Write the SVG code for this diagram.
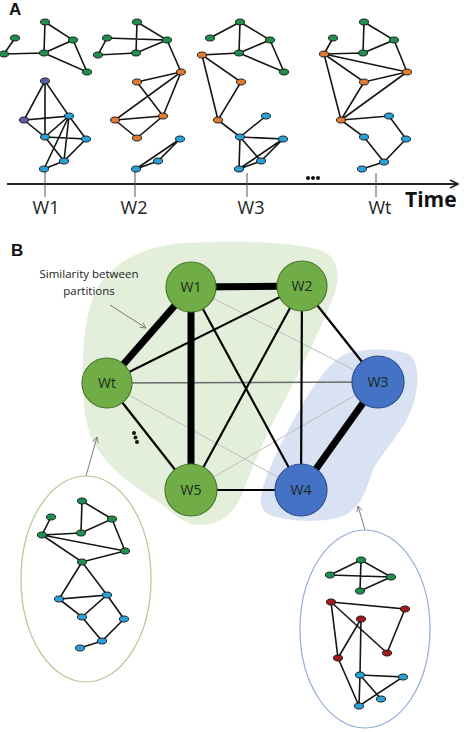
<svg xmlns="http://www.w3.org/2000/svg" width="467" height="732" viewBox="0 0 467 732">
<defs>
<style>
.e{stroke:#151515;stroke-width:1.6;fill:none}
.n{stroke:#111;stroke-width:0.9}
.ng{fill:#1f8f4e}.no{fill:#e07b32}.nb{fill:#2aa0d8}.np{fill:#5a5ea8}.nr{fill:#a3191b}
.lbl{font-family:"Open Sans","DejaVu Sans",sans-serif;fill:#222}
.big{font-family:"Liberation Sans",Arial,sans-serif;font-weight:bold;fill:#111}
.tk{stroke:#555;stroke-width:1}
.bt{stroke:#000;stroke-width:7;stroke-linecap:butt}
.bm{stroke:#000;stroke-width:2.2}
.bg{stroke:#6a6a6a;stroke-width:1.5}
.bl{stroke:#bdbdbd;stroke-width:1}
.cg{fill:#70ad47;stroke:#4a7a2e;stroke-width:1.2}
.cb{fill:#4472c4;stroke:#2f528f;stroke-width:1.2}
.cl{font-family:"Open Sans","DejaVu Sans",sans-serif;font-size:14px;fill:#1d2a1a;text-anchor:middle}
.ar{stroke:#7a7a7a;stroke-width:1;fill:none}
</style>
<marker id="oa" viewBox="0 0 10 10" refX="9" refY="5" markerWidth="7" markerHeight="7" orient="auto" markerUnits="userSpaceOnUse">
<path d="M1,1 L9,5 L1,9" fill="none" stroke="#7a7a7a" stroke-width="1.2"/>
</marker>
<marker id="ta" viewBox="0 0 10 10" refX="9" refY="5" markerWidth="10" markerHeight="10" orient="auto" markerUnits="userSpaceOnUse">
<path d="M1,1 L9,5 L1,9" fill="none" stroke="#222" stroke-width="1.6"/>
</marker>
</defs>
<rect width="467" height="732" fill="#fff"/>

<!-- Panel A -->
<text class="big" x="9" y="15" font-size="17">A</text>

<g id="timeline">
<line x1="7" y1="184" x2="458" y2="184" stroke="#222" stroke-width="1.8" marker-end="url(#ta)"/>
<line class="tk" x1="45" y1="169" x2="45" y2="197"/>
<line class="tk" x1="135" y1="169" x2="135" y2="197"/>
<line class="tk" x1="247" y1="173" x2="247" y2="197"/>
<line class="tk" x1="376" y1="173" x2="376" y2="197"/>
<text class="lbl" x="46" y="214" font-size="18" text-anchor="middle">W1</text>
<text class="lbl" x="134" y="214" font-size="18" text-anchor="middle">W2</text>
<text class="lbl" x="251" y="214" font-size="18" text-anchor="middle">W3</text>
<text class="lbl" x="380" y="214" font-size="18" text-anchor="middle">Wt</text>
<text x="405" y="207" font-family="'Open Sans','DejaVu Sans',sans-serif" font-weight="bold" font-size="21" fill="#111">Time</text>
<circle cx="308" cy="178" r="2" fill="#111"/><circle cx="313" cy="178" r="2" fill="#111"/><circle cx="318" cy="178" r="2" fill="#111"/>
</g>

<g id="connectors-A">
<!-- W1 -->
<path class="e" d="M15,38L4,54L44,53L45,22L73,40L44,53M44,53L87,72L73,40"/>
<path class="e" d="M45,81L24,120L69,116L45,81L45,137L24,120M45,137L69,116L64,161M69,116L44,169M69,116L86,139M45,137L86,139L64,161L45,137M64,161L44,169"/>
<!-- W2 -->
<path class="e" d="M137,22L136,53M137,22L167,40L107,38L98,55L136,53L167,40"/>
<path class="e" d="M167,40L181,72L137,82L163,116L181,72L115,120L163,116L137,138L115,120"/>
<path class="e" d="M180,139L136,169L158,161L180,139"/>
<!-- W3 -->
<path class="e" d="M240,22L210,38M240,22L239,53L270,40L240,22M270,40L284,72L239,53"/>
<path class="e" d="M239,53L202,55L241,82L218,120L202,55"/>
<path class="e" d="M218,120L240,137L266,116M240,137L283,139L261,161L240,137L239,169L283,139M239,169L261,161"/>
<!-- Wt -->
<path class="e" d="M364,22L363,53L394,40L364,22M394,40L407,72M333,38L324,54L363,53M324,54L407,72L364,82L324,54L341,120L364,82M341,120L407,72"/>
<path class="e" d="M341,120L389,116L406,139L384,162L364,137L341,120M384,162L362,169"/>
</g>

<g id="graph-W1">
<ellipse class="n ng" cx="15" cy="38" rx="4.5" ry="3"/><ellipse class="n ng" cx="4" cy="54" rx="4.5" ry="3"/>
<ellipse class="n ng" cx="44" cy="53" rx="4.5" ry="3"/><ellipse class="n ng" cx="45" cy="22" rx="4.5" ry="3"/>
<ellipse class="n ng" cx="73" cy="40" rx="4.5" ry="3"/><ellipse class="n ng" cx="87" cy="72" rx="4.5" ry="3"/>
<ellipse class="n np" cx="45" cy="81" rx="4.5" ry="3"/><ellipse class="n np" cx="24" cy="120" rx="4.5" ry="3"/>
<ellipse class="n nb" cx="69" cy="116" rx="4.5" ry="3"/><ellipse class="n nb" cx="45" cy="137" rx="4.5" ry="3"/>
<ellipse class="n nb" cx="86" cy="139" rx="4.5" ry="3"/><ellipse class="n nb" cx="64" cy="161" rx="4.5" ry="3"/>
<ellipse class="n nb" cx="44" cy="169" rx="4.5" ry="3"/>
</g>
<g id="graph-W2">
<ellipse class="n ng" cx="137" cy="22" rx="4.5" ry="3"/><ellipse class="n ng" cx="107" cy="38" rx="4.5" ry="3"/>
<ellipse class="n ng" cx="98" cy="55" rx="4.5" ry="3"/><ellipse class="n ng" cx="136" cy="53" rx="4.5" ry="3"/>
<ellipse class="n ng" cx="167" cy="40" rx="4.5" ry="3"/>
<ellipse class="n no" cx="181" cy="72" rx="4.5" ry="3"/><ellipse class="n no" cx="137" cy="82" rx="4.5" ry="3"/>
<ellipse class="n no" cx="115" cy="120" rx="4.5" ry="3"/><ellipse class="n no" cx="163" cy="116" rx="4.5" ry="3"/>
<ellipse class="n no" cx="137" cy="138" rx="4.5" ry="3"/>
<ellipse class="n nb" cx="180" cy="139" rx="4.5" ry="3"/><ellipse class="n nb" cx="158" cy="161" rx="4.5" ry="3"/>
<ellipse class="n nb" cx="136" cy="169" rx="4.5" ry="3"/>
</g>
<g id="graph-W3">
<ellipse class="n ng" cx="240" cy="22" rx="4.5" ry="3"/><ellipse class="n ng" cx="210" cy="38" rx="4.5" ry="3"/>
<ellipse class="n ng" cx="239" cy="53" rx="4.5" ry="3"/><ellipse class="n ng" cx="270" cy="40" rx="4.5" ry="3"/>
<ellipse class="n ng" cx="284" cy="72" rx="4.5" ry="3"/>
<ellipse class="n no" cx="202" cy="55" rx="4.5" ry="3"/><ellipse class="n no" cx="241" cy="82" rx="4.5" ry="3"/>
<ellipse class="n no" cx="218" cy="120" rx="4.5" ry="3"/>
<ellipse class="n nb" cx="266" cy="116" rx="4.5" ry="3"/><ellipse class="n nb" cx="240" cy="137" rx="4.5" ry="3"/>
<ellipse class="n nb" cx="283" cy="139" rx="4.5" ry="3"/><ellipse class="n nb" cx="261" cy="161" rx="4.5" ry="3"/>
<ellipse class="n nb" cx="239" cy="169" rx="4.5" ry="3"/>
</g>
<g id="graph-Wt">
<ellipse class="n ng" cx="364" cy="22" rx="4.5" ry="3"/><ellipse class="n ng" cx="333" cy="38" rx="4.5" ry="3"/>
<ellipse class="n ng" cx="363" cy="53" rx="4.5" ry="3"/><ellipse class="n ng" cx="394" cy="40" rx="4.5" ry="3"/>
<ellipse class="n no" cx="324" cy="54" rx="4.5" ry="3"/><ellipse class="n no" cx="407" cy="72" rx="4.5" ry="3"/>
<ellipse class="n no" cx="364" cy="82" rx="4.5" ry="3"/><ellipse class="n no" cx="341" cy="120" rx="4.5" ry="3"/>
<ellipse class="n nb" cx="389" cy="116" rx="4.5" ry="3"/><ellipse class="n nb" cx="364" cy="137" rx="4.5" ry="3"/>
<ellipse class="n nb" cx="406" cy="139" rx="4.5" ry="3"/><ellipse class="n nb" cx="384" cy="162" rx="4.5" ry="3"/>
<ellipse class="n nb" cx="362" cy="169" rx="4.5" ry="3"/>
</g>

<!-- Panel B -->
<text class="big" x="11" y="256" font-size="17">B</text>

<g id="regions">
<path d="M185,243 C150,245 120,258 103,280 C88,300 84,330 83,360 C82,395 84,420 92,440 C105,465 130,485 160,503 C175,515 185,525 200,525 C222,525 235,512 243,492 C255,460 268,430 285,400 C300,370 318,335 330,305 C340,285 342,262 325,252 C300,242 240,240 185,243 Z" fill="#e3efda"/>
<path d="M345,354 C360,349 395,347 410,355 C420,365 419,385 413,405 C405,430 382,452 373,470 C366,490 362,506 345,515 C325,524 285,522 268,514 C257,507 260,495 266,478 C276,452 290,425 305,400 C318,380 330,362 345,354 Z" fill="#d9e2f3"/>
</g>

<g id="connectors-B">
<line class="bl" x1="191" y1="287" x2="378" y2="382"/>
<line class="bl" x1="107" y1="383" x2="301" y2="490"/>
<line class="bl" x1="378" y1="382" x2="191" y2="490"/>
<line class="bg" x1="107" y1="383" x2="378" y2="382"/>
<line class="bm" x1="191" y1="287" x2="301" y2="490"/>
<line class="bm" x1="302" y1="286" x2="107" y2="383"/>
<line class="bm" x1="302" y1="286" x2="191" y2="490"/>
<line class="bm" x1="302" y1="286" x2="301" y2="490"/>
<line class="bm" x1="302" y1="286" x2="378" y2="382"/>
<line class="bm" x1="107" y1="383" x2="191" y2="490"/>
<line class="bm" x1="191" y1="490" x2="301" y2="490"/>
<line class="bt" x1="191" y1="287" x2="302" y2="286"/>
<line class="bt" x1="191" y1="287" x2="107" y2="383"/>
<line class="bt" x1="191" y1="287" x2="191" y2="490"/>
<line class="bt" x1="378" y1="382" x2="301" y2="490"/>
<line class="ar" x1="110" y1="305" x2="146" y2="328" marker-end="url(#oa)"/>
<line class="ar" x1="86" y1="476" x2="97" y2="437" marker-end="url(#oa)"/>
<line class="ar" x1="365" y1="530" x2="358" y2="506" marker-end="url(#oa)"/>
</g>

<text class="lbl" x="89" y="278" font-size="11.5" text-anchor="middle">Similarity between</text>
<text class="lbl" x="89" y="295" font-size="11.5" text-anchor="middle">partitions</text>
<circle cx="134" cy="433" r="2" fill="#111"/><circle cx="135.5" cy="437.5" r="2" fill="#111"/><circle cx="137" cy="442" r="2" fill="#111"/>

<g id="node-W1"><circle class="cg" cx="191" cy="287" r="25"/><text class="cl" x="191" y="292">W1</text></g>
<g id="node-W2"><circle class="cg" cx="302" cy="286" r="25"/><text class="cl" x="302" y="291">W2</text></g>
<g id="node-Wt"><circle class="cg" cx="107" cy="383" r="25"/><text class="cl" x="107" y="388">Wt</text></g>
<g id="node-W5"><circle class="cg" cx="191" cy="490" r="26"/><text class="cl" x="191" y="495">W5</text></g>
<g id="node-W3"><circle class="cb" cx="378" cy="382" r="26"/><text class="cl" x="378" y="387">W3</text></g>
<g id="node-W4"><circle class="cb" cx="301" cy="490" r="26"/><text class="cl" x="301" y="495">W4</text></g>

<g id="inset-left">
<ellipse cx="86" cy="579" rx="65" ry="103" fill="none" stroke="#b3c898" stroke-width="1.2"/>
<path class="e" d="M82,501L81,533L112,519L82,501M112,519L125,551L42,535L51,517M42,535L81,533M42,535L82,562L125,551M82,562L59,599L107,595L82,562M59,599L82,617L107,595L124,619L102,641L82,617M102,641L80,648"/>
<ellipse class="n ng" cx="82" cy="501" rx="4.5" ry="3"/><ellipse class="n ng" cx="51" cy="517" rx="4.5" ry="3"/>
<ellipse class="n ng" cx="112" cy="519" rx="4.5" ry="3"/><ellipse class="n ng" cx="81" cy="533" rx="4.5" ry="3"/>
<ellipse class="n ng" cx="42" cy="535" rx="4.5" ry="3"/><ellipse class="n ng" cx="125" cy="551" rx="4.5" ry="3"/>
<ellipse class="n ng" cx="82" cy="562" rx="4.5" ry="3"/>
<ellipse class="n nb" cx="59" cy="599" rx="4.5" ry="3"/><ellipse class="n nb" cx="107" cy="595" rx="4.5" ry="3"/>
<ellipse class="n nb" cx="82" cy="617" rx="4.5" ry="3"/><ellipse class="n nb" cx="124" cy="619" rx="4.5" ry="3"/>
<ellipse class="n nb" cx="102" cy="641" rx="4.5" ry="3"/><ellipse class="n nb" cx="80" cy="648" rx="4.5" ry="3"/>
</g>

<g id="inset-right">
<ellipse cx="365" cy="629" rx="65" ry="99" fill="none" stroke="#93acd9" stroke-width="1.2"/>
<path class="e" d="M361,560L330,575L391,577L361,560L360,591L391,577"/>
<path class="e" d="M331,602L405,609L387,653M331,602L387,653M331,602L338,658L361,619L360,675M338,658L359,706M360,675L403,677L359,706L360,675L381,699"/>
<ellipse class="n ng" cx="361" cy="560" rx="4.5" ry="3"/><ellipse class="n ng" cx="330" cy="575" rx="4.5" ry="3"/>
<ellipse class="n ng" cx="391" cy="577" rx="4.5" ry="3"/><ellipse class="n ng" cx="360" cy="591" rx="4.5" ry="3"/>
<ellipse class="n nr" cx="331" cy="602" rx="4.5" ry="3"/><ellipse class="n nr" cx="405" cy="609" rx="4.5" ry="3"/>
<ellipse class="n nr" cx="361" cy="619" rx="4.5" ry="3"/><ellipse class="n nr" cx="387" cy="653" rx="4.5" ry="3"/>
<ellipse class="n nr" cx="338" cy="658" rx="4.5" ry="3"/>
<ellipse class="n nb" cx="360" cy="675" rx="4.5" ry="3"/><ellipse class="n nb" cx="403" cy="677" rx="4.5" ry="3"/>
<ellipse class="n nb" cx="381" cy="699" rx="4.5" ry="3"/><ellipse class="n nb" cx="359" cy="706" rx="4.5" ry="3"/>
</g>
</svg>
